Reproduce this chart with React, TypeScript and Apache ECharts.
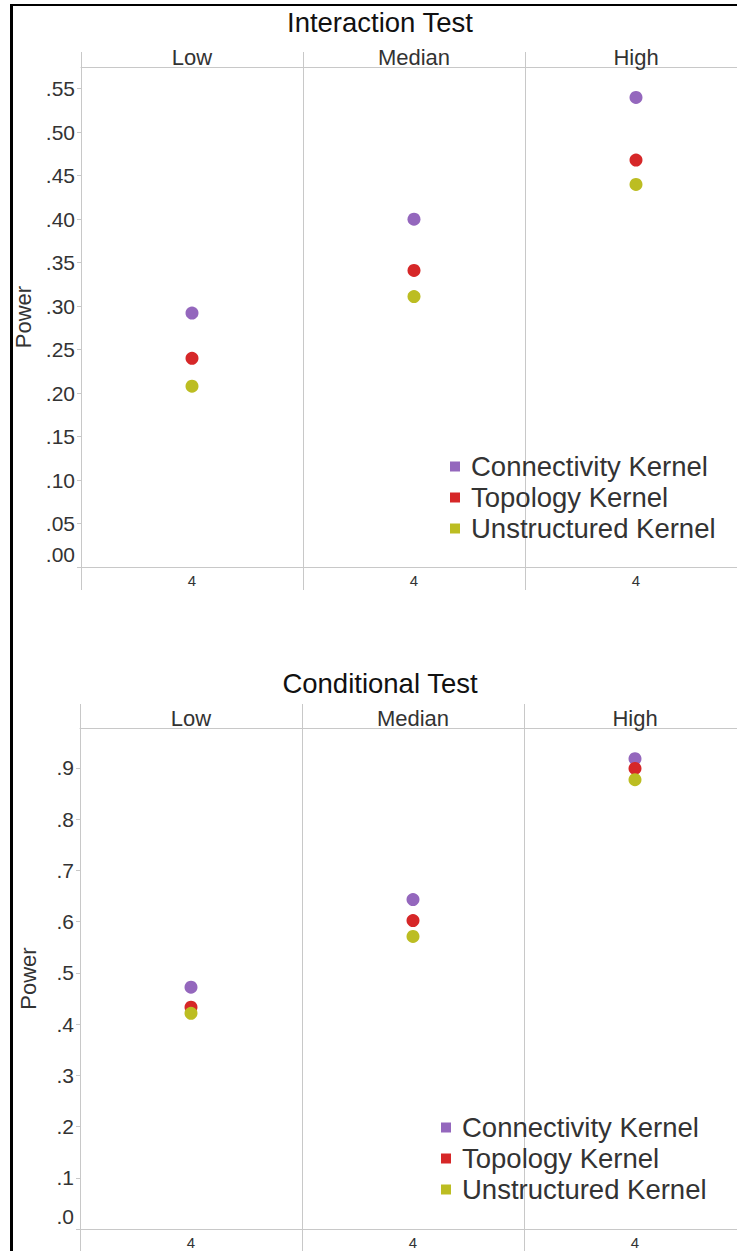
import React, { useEffect, useRef } from "react";
import * as echarts from "echarts";

const categories = ["Low", "Median", "High"];
const countLabels = ["4", "4", "4"];
const seriesNames = ["Connectivity Kernel", "Topology Kernel", "Unstructured Kernel"];
const seriesColors = ["#9467bd", "#d62728", "#bcbd22"];

const interactionConnectivity = [0.292, 0.4, 0.54];
const interactionTopology = [0.24, 0.341, 0.468];
const interactionUnstructured = [0.208, 0.311, 0.44];

const conditionalConnectivity = [0.472, 0.643, 0.918];
const conditionalTopology = [0.433, 0.602, 0.899];
const conditionalUnstructured = [0.421, 0.571, 0.877];

const interactionTicks = [0, 0.05, 0.1, 0.15, 0.2, 0.25, 0.3, 0.35, 0.4, 0.45, 0.5, 0.55];
const conditionalTicks = [0, 0.1, 0.2, 0.3, 0.4, 0.5, 0.6, 0.7, 0.8, 0.9];

const FONT = "'Liberation Sans', Arial, sans-serif";
const GRID_LINE = "#c8c8c8";
const TEXT = "#333333";

export default function App() {
  const ref = useRef<HTMLDivElement>(null);

  useEffect(() => {
    if (!ref.current) return;
    const chart = echarts.init(ref.current, null, { renderer: "svg" });

    const grids = [
      { left: 81, top: 67, height: 500, width: 666, outerBoundsMode: "none", containLabel: false },
      { left: 80, top: 728, height: 501, width: 666, outerBoundsMode: "none", containLabel: false },
    ];

    const xAxes: any[] = [];
    const yAxes: any[] = [];
    const tickSets = [interactionTicks, conditionalTicks];
    const decimals = [2, 1];
    const maxes = [0.575, 0.978];
    const bottomTick = [23, 24];
    const topTick = [15, 24];

    for (let g = 0; g < 2; g++) {
      xAxes.push({
        type: "category",
        gridIndex: g,
        position: "top",
        data: categories,
        boundaryGap: true,
        axisLine: { show: true, onZero: false, lineStyle: { color: GRID_LINE, width: 1 } },
        axisTick: { show: true, inside: false, interval: 0, alignWithLabel: false, length: topTick[g], lineStyle: { color: GRID_LINE, width: 1 } },
        axisLabel: { fontSize: 22, color: TEXT, fontFamily: FONT, margin: -1, interval: 0 },
        splitLine: { show: true, interval: 0, lineStyle: { color: GRID_LINE, width: 1 } },
      });
      xAxes.push({
        type: "category",
        gridIndex: g,
        position: "bottom",
        data: countLabels,
        boundaryGap: true,
        axisLine: { show: true, onZero: false, lineStyle: { color: GRID_LINE, width: 1 } },
        axisTick: { show: true, inside: false, interval: 0, alignWithLabel: false, length: bottomTick[g], lineStyle: { color: GRID_LINE, width: 1 } },
        axisLabel: { fontSize: 15, color: TEXT, fontFamily: FONT, margin: 6, interval: 0 },
        splitLine: { show: false },
      });
      const d = decimals[g];
      yAxes.push({
        type: "value",
        gridIndex: g,
        min: 0,
        max: maxes[g],
        name: "Power",
        nameLocation: "middle",
        nameRotate: 90,
        nameGap: 41,
        nameTextStyle: { fontSize: 22, color: TEXT, fontFamily: FONT },
        axisLine: { show: true, onZero: false, lineStyle: { color: GRID_LINE, width: 1 } },
        axisTick: { show: true, length: 4, lineStyle: { color: GRID_LINE }, customValues: tickSets[g] },
        splitLine: { show: false },
        axisLabel: {
          customValues: tickSets[g],
          fontSize: 21,
          color: TEXT,
          fontFamily: FONT,
          margin: 6,
          formatter: (v: number) => {
            const s = v.toFixed(d).replace(/^0/, "");
            return Math.abs(v) < 1e-9 ? `{z|${s}}` : s;
          },
          rich: {
            z: { fontSize: 21, color: TEXT, fontFamily: FONT, padding: [0, 0, 26, 0] },
          },
        },
      });
    }

    const panelData = [
      [interactionConnectivity, interactionTopology, interactionUnstructured],
      [conditionalConnectivity, conditionalTopology, conditionalUnstructured],
    ];

    const series: any[] = [];
    for (let g = 0; g < 2; g++) {
      for (let s = 0; s < 3; s++) {
        series.push({
          type: "scatter",
          name: seriesNames[s],
          xAxisIndex: g * 2,
          yAxisIndex: g,
          symbol: "circle",
          symbolSize: 13,
          itemStyle: { color: seriesColors[s], opacity: 1 },
          data: panelData[g][s].map((v, i) => [categories[i], v]),
        });
      }
    }

    const legendCommon = {
      orient: "vertical",
      icon: "rect",
      itemWidth: 10,
      itemHeight: 10,
      itemGap: 0,
      padding: 0,
      selectedMode: false,
      data: seriesNames,
      textStyle: { fontSize: 27.5, lineHeight: 31, color: TEXT, fontFamily: FONT, padding: [0, 0, 0, 6] },
    };

    chart.setOption({
      animation: false,
      backgroundColor: "#ffffff",
      color: seriesColors,
      grid: grids,
      xAxis: xAxes,
      yAxis: yAxes,
      series,
      legend: [
        { ...legendCommon, left: 450, top: 451 },
        { ...legendCommon, left: 441, top: 1112 },
      ],
      graphic: [
        { type: "rect", shape: { x: 10, y: 4, width: 3, height: 1247 }, style: { fill: "#000" } },
        { type: "rect", shape: { x: 10, y: 4, width: 727, height: 2 }, style: { fill: "#000" } },
        {
          type: "text",
          x: 380,
          y: 22,
          style: { text: "Interaction Test", fontSize: 27.5, fill: "#111", fontFamily: FONT, textAlign: "center", textVerticalAlign: "middle" },
        },
        {
          type: "text",
          x: 380,
          y: 683,
          style: { text: "Conditional Test", fontSize: 27.5, fill: "#111", fontFamily: FONT, textAlign: "center", textVerticalAlign: "middle" },
        },
      ],
    });

    return () => chart.dispose();
  }, []);

  return (
    <div
      ref={ref}
      style={{ position: "absolute", left: 0, top: 0, width: 737, height: 1251, background: "#fff" }}
    />
  );
}
